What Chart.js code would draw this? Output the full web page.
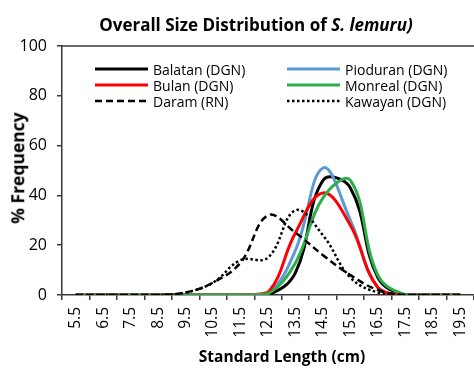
<!DOCTYPE html>
<html><head><meta charset="utf-8">
<script src="https://cdn.jsdelivr.net/npm/chart.js@4.4.1/dist/chart.umd.min.js"></script>
<style>
html,body{margin:0;padding:0;background:#fff;}
#wrap{position:relative;width:474px;height:368px;overflow:hidden;font-family:"Open Sans",sans-serif;color:#000;}
#c{position:absolute;left:0;top:0;}
.t{position:absolute;white-space:nowrap;line-height:1;}
#title{left:256px;top:24px;transform:translate(-50%,-50%);font-weight:bold;font-size:17px;}
#ytitle{left:18px;top:168px;transform:translate(-50%,-50%) rotate(-90deg);font-weight:bold;font-size:17.5px;}
#xtitle{left:282px;top:357px;transform:translate(-50%,-50%);font-weight:bold;font-size:15.5px;}
.item{position:absolute;height:16px;display:flex;align-items:center;font-size:14px;white-space:nowrap;}
.item svg{margin-right:5px;}
</style></head>
<body>
<div id="wrap">
<canvas id="c" width="474" height="368"></canvas>
<div class="t" id="title">Overall Size Distribution of <i>S. lemuru)</i></div>
<div class="t" id="ytitle">% Frequency</div>
<div class="t" id="xtitle">Standard Length (cm)</div>
<div id="legend"></div>
</div>
<script>
// ---- data ----
const categories = ['5.5','6.5','7.5','8.5','9.5','10.5','11.5','12.5','13.5','14.5','15.5','16.5','17.5','18.5','19.5'];
const balatan  = [0,0,0,0,0,0,0,0,9,46,43,7,0,0,0];
const pioduran = [0,0,0,0,0,0,0,0.5,18,51,30,3,0,0,0];
const bulan    = [0,0,0,0,0,0,0,1,25,41,28,3,0,0,0];
const monreal  = [0,0,0,0,0,0,0,0.5,13,39,46,8,0,0,0];
const daram    = [0,0,0,0,1,5,13,32,25,16,8,2,0,0,0];
const kawayan  = [0,0,0,0,1,5,14,15,34,24,7,1,0,0,0];
const seriesNames = ['Balatan (DGN)','Pioduran (DGN)','Bulan (DGN)','Monreal (DGN)','Daram (RN)','Kawayan (DGN)'];
const yMin = 0, yMax = 100, yStep = 20;

// ---- styles ----
const seriesValues = [balatan, pioduran, bulan, monreal, daram, kawayan];
const styles = [
  {color:'#000000', dash:[], width:3, order:5},
  {color:'#5B9BD5', dash:[], width:3, order:4},
  {color:'#FF0000', dash:[], width:3, order:3},
  {color:'#2EAD4B', dash:[], width:3, order:2},
  {color:'#000000', dash:[7,4], width:2.5, order:1},
  {color:'#000000', dash:[2.5,2.5], width:2.5, order:0}
];
const axisColor = '#3a3a3a';

const datasets = seriesValues.map((v,i)=>({
  label: seriesNames[i], data: v,
  borderColor: styles[i].color, borderDash: styles[i].dash,
  borderWidth: styles[i].width, order: styles[i].order,
  pointRadius:0, tension:0.4, fill:false
}));

const topBorder = {id:'topBorder', afterDraw(chart){
  const {ctx, chartArea:a} = chart;
  ctx.save(); ctx.strokeStyle = axisColor; ctx.lineWidth = 1.5;
  ctx.beginPath(); ctx.moveTo(a.left, a.top); ctx.lineTo(a.right + 2, a.top); ctx.stroke();
  ctx.restore();
}};

new Chart(document.getElementById('c'), {
  type:'line',
  data:{labels:categories, datasets},
  options:{
    responsive:false, animation:false, devicePixelRatio:1,
    layout:{padding:{top:46,left:0,right:0,bottom:0}},
    plugins:{legend:{display:false}, title:{display:false}, tooltip:{enabled:false}},
    scales:{
      x:{type:'category', offset:true,
        grid:{offset:true, drawOnChartArea:false, drawTicks:true, tickLength:5, color:axisColor, lineWidth:1.5},
        border:{color:axisColor, width:1.5},
        ticks:{autoSkip:false, minRotation:90, maxRotation:90, padding:7, color:'#000', font:{family:'Open Sans', size:15.5}},
        afterFit(s){ s.height = 73; s.paddingLeft = 0; s.paddingRight = 0; }
      },
      y:{min:yMin, max:yMax,
        grid:{drawOnChartArea:false, drawTicks:true, tickLength:5, color:axisColor, lineWidth:1.5},
        border:{color:axisColor, width:1.5},
        ticks:{stepSize:yStep, padding:10, color:'#000', font:{family:'Open Sans', size:16}},
        afterFit(s){ s.width = 62; }
      }
    }
  },
  plugins:[topBorder]
});

// ---- legend (HTML) ----
const legend = document.getElementById('legend');
const colX = [95, 287], rowY = [69, 85, 101];
seriesNames.forEach((name,i)=>{
  const st = styles[i];
  const d = document.createElement('div');
  d.className = 'item';
  d.style.left = colX[i%2] + 'px';
  d.style.top = (rowY[Math.floor(i/2)] - 8) + 'px';
  d.innerHTML = `<svg width="53" height="6"><line x1="0" y1="3" x2="53" y2="3" stroke="${st.color}" stroke-width="${st.width}" ${st.dash.length?`stroke-dasharray="${st.dash.join(',')}"`:''}/></svg><span>${name}</span>`;
  legend.appendChild(d);
});
</script>
</body></html>
